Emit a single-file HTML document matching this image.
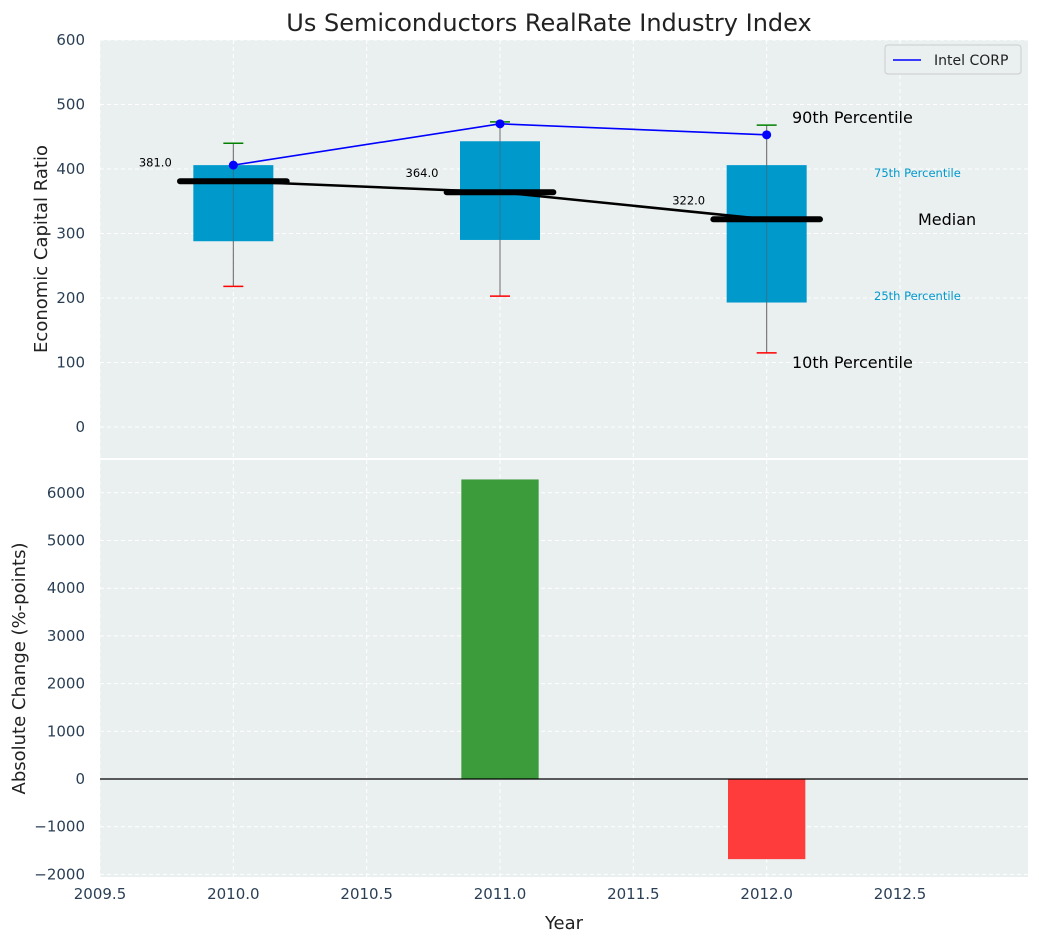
<!DOCTYPE html>
<html><head><meta charset="utf-8"><style>
body{margin:0;background:#fff;}
svg text{font-family:"DejaVu Sans","Liberation Sans",sans-serif;}
</style></head><body>
<svg id="chart" width="1039" height="942" xmlns="http://www.w3.org/2000/svg">
<text x="549" y="31" text-anchor="middle" font-size="24" fill="#222">Us Semiconductors RealRate Industry Index</text>
<g id="topPanel"></g>
<g id="botPanel"></g>
</svg>
<script>
const years=[2010,2011,2012];
const q10=[218,203,115];
const q25=[288,290,193];
const med=[381,364,322];
const q75=[406,443,406];
const q90=[440,473,468];
const intel=[406,470,453];
const changes=[0,6280,-1680];
const xTicks=[2009.5,2010.0,2010.5,2011.0,2011.5,2012.0,2012.5];
const yTopTicks=[0,100,200,300,400,500,600];
const yBotTicks=[-2000,-1000,0,1000,2000,3000,4000,5000,6000];

const NS="http://www.w3.org/2000/svg";
const L=100,R=1028;
const X=v=>L+(v-2009.5)*(R-L)/(2012.98-2009.5);
const T0=40,T1=458,yT=v=>427-v*0.645;
const B0=460,B1=877,yB=v=>779-v*0.0477;
function el(p,tag,a){const e=document.createElementNS(NS,tag);for(const k in a)e.setAttribute(k,a[k]);p.appendChild(e);return e;}
const topG=document.getElementById('topPanel'),botG=document.getElementById('botPanel');
function panel(g,y0,y1,ticks,yf,title,fmt){
  const bg=el(g,'rect',{x:L,y:y0,width:R-L,height:y1-y0,fill:'#eaeff0'});
  
  
  xTicks.forEach(t=>{const l=el(g,'line',{x1:X(t),x2:X(t),y1:y0,y2:y1,stroke:'#fff','stroke-dasharray':'4,3','stroke-width':1});
    });
  ticks.forEach(t=>{const y=yf(t);const l=el(g,'line',{x1:L,x2:R,y1:y,y2:y,stroke:'#fff','stroke-dasharray':'4,3','stroke-width':1});
    
    const tx=el(g,'text',{x:L-15,y:y+5,'text-anchor':'end','font-size':15,fill:'#2a3f55'});tx.textContent=fmt(t);
    });
  const yt=el(g,'text',{transform:`translate(${title[1]},${(y0+y1)/2}) rotate(-90)`,'text-anchor':'middle','font-size':18,fill:'#222'});yt.textContent=title[0];
  
}
panel(topG,T0,T1,yTopTicks,yT,['Economic Capital Ratio',47],t=>t);
panel(botG,B0,B1,yBotTicks,yB,['Absolute Change (%-points)',25],t=>t<0?'\u2212'+(-t):t);

years.forEach((yr,i)=>{
  const x=X(yr),hw=0.15*(R-L)/3.48;
  const w=el(topG,'line',{x1:x,x2:x,y1:yT(q90[i]),y2:yT(q10[i]),stroke:'#888','stroke-width':1});
  
  const b=el(topG,'rect',{x:x-hw,y:yT(q75[i]),width:2*hw,height:yT(q25[i])-yT(q75[i]),fill:'#0099cc'});
  
  const w2=el(topG,'line',{x1:x,x2:x,y1:yT(q90[i]),y2:yT(q10[i]),stroke:'#555','stroke-width':1,opacity:0.5});
  
  const c1=el(topG,'line',{x1:x-10,x2:x+10,y1:yT(q90[i]),y2:yT(q90[i]),stroke:'green','stroke-width':1.5});
  
  const c2=el(topG,'line',{x1:x-10,x2:x+10,y1:yT(q10[i]),y2:yT(q10[i]),stroke:'red','stroke-width':1.5});
  
  const mw=0.2*(R-L)/3.48;
  const m=el(topG,'line',{x1:x-mw,x2:x+mw,y1:yT(med[i]),y2:yT(med[i]),stroke:'#000','stroke-width':6,'stroke-linecap':'round'});
  
  const a=el(topG,'text',{x:x-78,y:yT(med[i])-15,'text-anchor':'middle','font-size':11.5,fill:'#000'});a.textContent=med[i].toFixed(1);
  
});
const mline=el(topG,'polyline',{points:years.map((y,i)=>X(y)+','+yT(med[i])).join(' '),fill:'none',stroke:'#000','stroke-width':2.5});

const iline=el(topG,'polyline',{points:years.map((y,i)=>X(y)+','+yT(intel[i])).join(' '),fill:'none',stroke:'blue','stroke-width':1.6});

years.forEach((y,i)=>{const c=el(topG,'circle',{cx:X(y),cy:yT(intel[i]),r:4.5,fill:'blue'});
  });
[['90th Percentile',792,123,16,'#000'],['75th Percentile',874,177,11.5,'#0099cc'],['Median',918,225,16,'#000'],['25th Percentile',874,300,11.5,'#0099cc'],['10th Percentile',792,368,16,'#000']].forEach(d=>{
  const t=el(topG,'text',{x:d[1],y:d[2],'font-size':d[3],fill:d[4]});t.textContent=d[0];
  });
const lg=el(topG,'g',{});
el(lg,'rect',{x:885,y:45,width:136,height:29,rx:3,fill:'#eaeff0',stroke:'#ccc'});
el(lg,'line',{x1:893,x2:921,y1:60,y2:60,stroke:'blue','stroke-width':1.6});
const lt=el(lg,'text',{x:934,y:65,'font-size':14,fill:'#222'});lt.textContent='Intel CORP';


years.forEach((yr,i)=>{const hw=0.145*(R-L)/3.48,v=changes[i];if(!v)return;
  const r=el(botG,'rect',{x:X(yr)-hw,y:Math.min(yB(0),yB(v)),width:2*hw,height:Math.abs(yB(v)-yB(0)),fill:v>0?'#3c9c3c':'#ff3c3c'});
  });
const z=el(botG,'line',{x1:L,x2:R,y1:yB(0),y2:yB(0),stroke:'#000','stroke-width':1.2});

xTicks.forEach(t=>{const tx=el(botG,'text',{x:X(t),y:B1+22,'text-anchor':'middle','font-size':15,fill:'#2a3f55'});tx.textContent=t.toFixed(1);
  });
const xt=el(botG,'text',{x:564,y:929,'text-anchor':'middle','font-size':18,fill:'#222'});xt.textContent='Year';

</script>
</body></html>
